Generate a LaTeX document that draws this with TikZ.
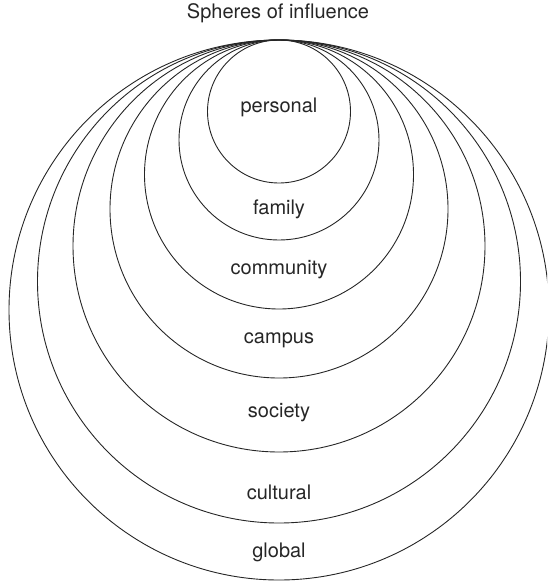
\documentclass[tikz,border=0pt]{standalone}
\usepackage{fontspec}
\setmainfont{TeX Gyre Heros}
\begin{document}
\begin{tikzpicture}[x=1pt,y=-1pt,
  sphere/.style={draw=black!85, line width=0.9pt, circle, inner sep=0pt, fill=none},
  lbl/.style={text=black!85, font=\fontsize{20pt}{24pt}\selectfont, inner sep=0pt}]
\useasboundingbox (0,0) rectangle (547,581);
\clip (0,0) rectangle (547,581);
% circles, all tangent at top point (279,40)
\node[sphere, minimum size=540pt] (global)    at (279,310)   {};
\node[sphere, minimum size=483pt] (cultural)  at (279,281.5) {};
\node[sphere, minimum size=412pt] (society)   at (279,246)   {};
\node[sphere, minimum size=338pt] (campus)    at (279,209)   {};
\node[sphere, minimum size=269pt] (community) at (279,174.5) {};
\node[sphere, minimum size=200pt] (family)    at (279,140)   {};
\node[sphere, minimum size=143pt] (personal)  at (279,111.5) {};
% labels
\node[lbl] (title) at (278,13.5) {Spheres of influence};
\node[lbl] (lpersonal)  at (279,107) {personal};
\node[lbl] (lfamily)    at (279,209) {family};
\node[lbl] (lcommunity) at (279,270) {community};
\node[lbl] (lcampus)    at (279,340) {campus};
\node[lbl] (lsociety)   at (279,413) {society};
\node[lbl] (lcultural)  at (279,492) {cultural};
\node[lbl] (lglobal)    at (279,552) {global};
\end{tikzpicture}
\end{document}
